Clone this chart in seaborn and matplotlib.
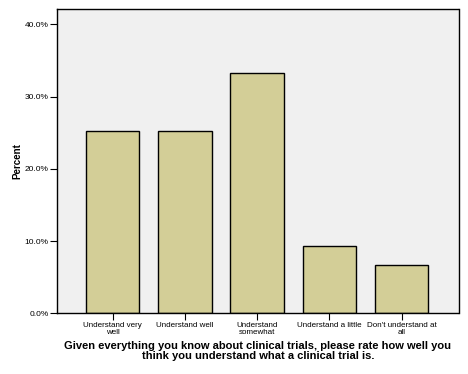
import matplotlib
matplotlib.use("Agg")
import matplotlib.pyplot as plt
import seaborn as sns
import pandas as pd
from matplotlib.ticker import FuncFormatter

categories = ["Understand very\nwell", "Understand well", "Understand\nsomewhat",
              "Understand a little", "Don't understand at\nall"]
percents = [25.3, 25.3, 33.3, 9.3, 6.7]
yticks = [0, 10, 20, 30, 40]

sns.set_theme(style="white")
plt.rcParams['font.family'] = ['Liberation Sans', 'DejaVu Sans']
plt.rcParams['text.color'] = 'black'
plt.rcParams['axes.labelcolor'] = 'black'

df = pd.DataFrame({"category": categories, "percent": percents})

fig = plt.figure(figsize=(4.68, 3.74), dpi=100)
ax = fig.add_axes([57/468, 1-313.3/374, (458.5-57)/468, (313.3-9.3)/374])
ax.set_facecolor("#F0F0F0")

sns.barplot(data=df, x="category", y="percent", ax=ax, color="#D3CE97",
            saturation=1, width=0.74, edgecolor="black", linewidth=1.0)

ax.set_xlim(-0.771, 4.786)
ax.set_ylim(0, 42.08)
ax.set_yticks(yticks)
ax.yaxis.set_major_formatter(FuncFormatter(lambda v, p: f"{v:.1f}%"))
ax.tick_params(axis="y", which="major", direction="out", length=5, width=0.8,
               labelsize=6, pad=1, left=True, colors="black")
ax.tick_params(axis="x", which="major", direction="out", length=5, width=0.8,
               labelsize=5.8, pad=1.5, bottom=True, colors="black")
for lab in ax.get_xticklabels():
    lab.set_linespacing(0.9)

for s in ax.spines.values():
    s.set_visible(True)
    s.set_color("black")
    s.set_linewidth(1.0)

ax.set_ylabel("Percent", fontsize=7, fontweight="bold", color="black")
ax.yaxis.set_label_coords(-0.085, 0.5)
ax.set_xlabel("Given everything you know about clinical trials, please rate how well you\nthink you understand what a clinical trial is.",
              fontsize=8, fontweight="bold", labelpad=4, linespacing=0.95, color="black")

fig.savefig("out.png", dpi=100, facecolor="white")
